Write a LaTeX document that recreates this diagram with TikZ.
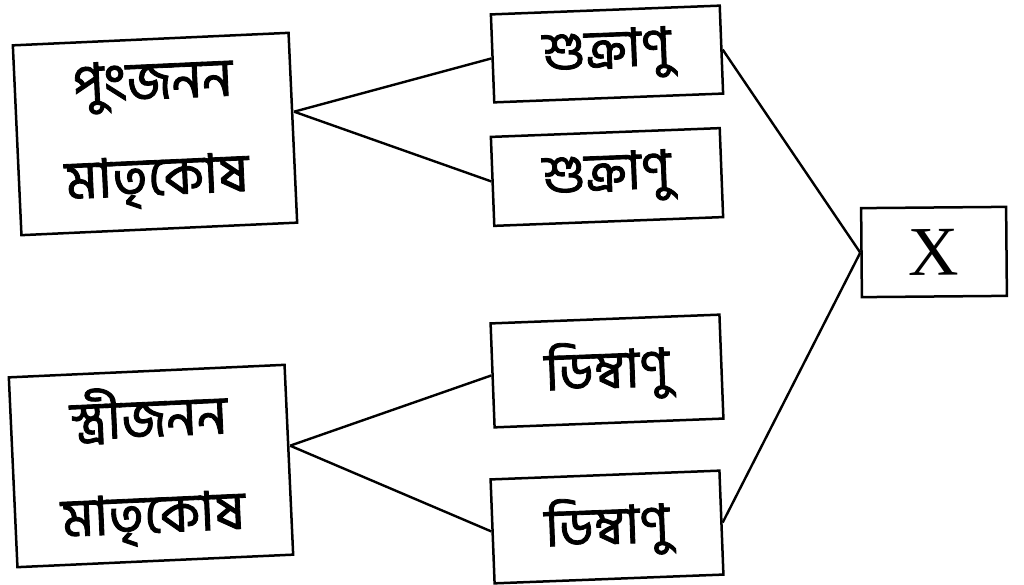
\documentclass[tikz,border=0pt]{standalone}
\usepackage{fontspec}
\setmainfont{Liberation Serif}
\newfontfamily\bn[Script=Bengali,FakeBold=1.6]{Hind Siliguri}
\begin{document}
\begin{tikzpicture}[x=1pt,y=-1pt,
  box/.style={draw,line width=2.5pt,inner sep=0pt,align=center},
  bigbox/.style={box,minimum width=276pt,minimum height=190pt,rotate=2.6,font=\bn\fontsize{54}{96}\selectfont},
  midbox/.style={box,minimum width=229pt,rotate=2.2,font=\bn\fontsize{53}{58}\selectfont},
  link/.style={line width=2.4pt}]
\useasboundingbox (0,0) rectangle (1024,585);
\node[bigbox] (A) at (155,134) {পুংজনন\\মাতৃকোষ};
\node[bigbox] (B) at (151,466) {স্ত্রীজনন\\মাতৃকোষ};
\node[midbox,minimum height=88pt] (S1) at (607,54) {শুক্রাণু};
\node[midbox,minimum height=89pt] (S2) at (607,177) {শুক্রাণু};
\node[midbox,minimum height=104pt] (D1) at (607,371) {ডিম্বাণু};
\node[midbox,minimum height=104pt] (D2) at (607,527) {ডিম্বাণু};
\node[box,minimum width=145pt,minimum height=89pt,rotate=0.5,font=\fontsize{70}{80}\selectfont] (X) at (934,252) {X};
\coordinate (a) at ([yshift=16pt]A.east);
\coordinate (b) at ([yshift=14pt]B.east);
\draw[link] (a) -- (S1.west);
\draw[link] (a) -- (S2.west);
\draw[link] (b) -- (D1.west);
\draw[link] (b) -- (D2.west);
\draw[link] (S1.east) -- (X.west);
\draw[link] (D2.east) -- (X.west);
\end{tikzpicture}
\end{document}
